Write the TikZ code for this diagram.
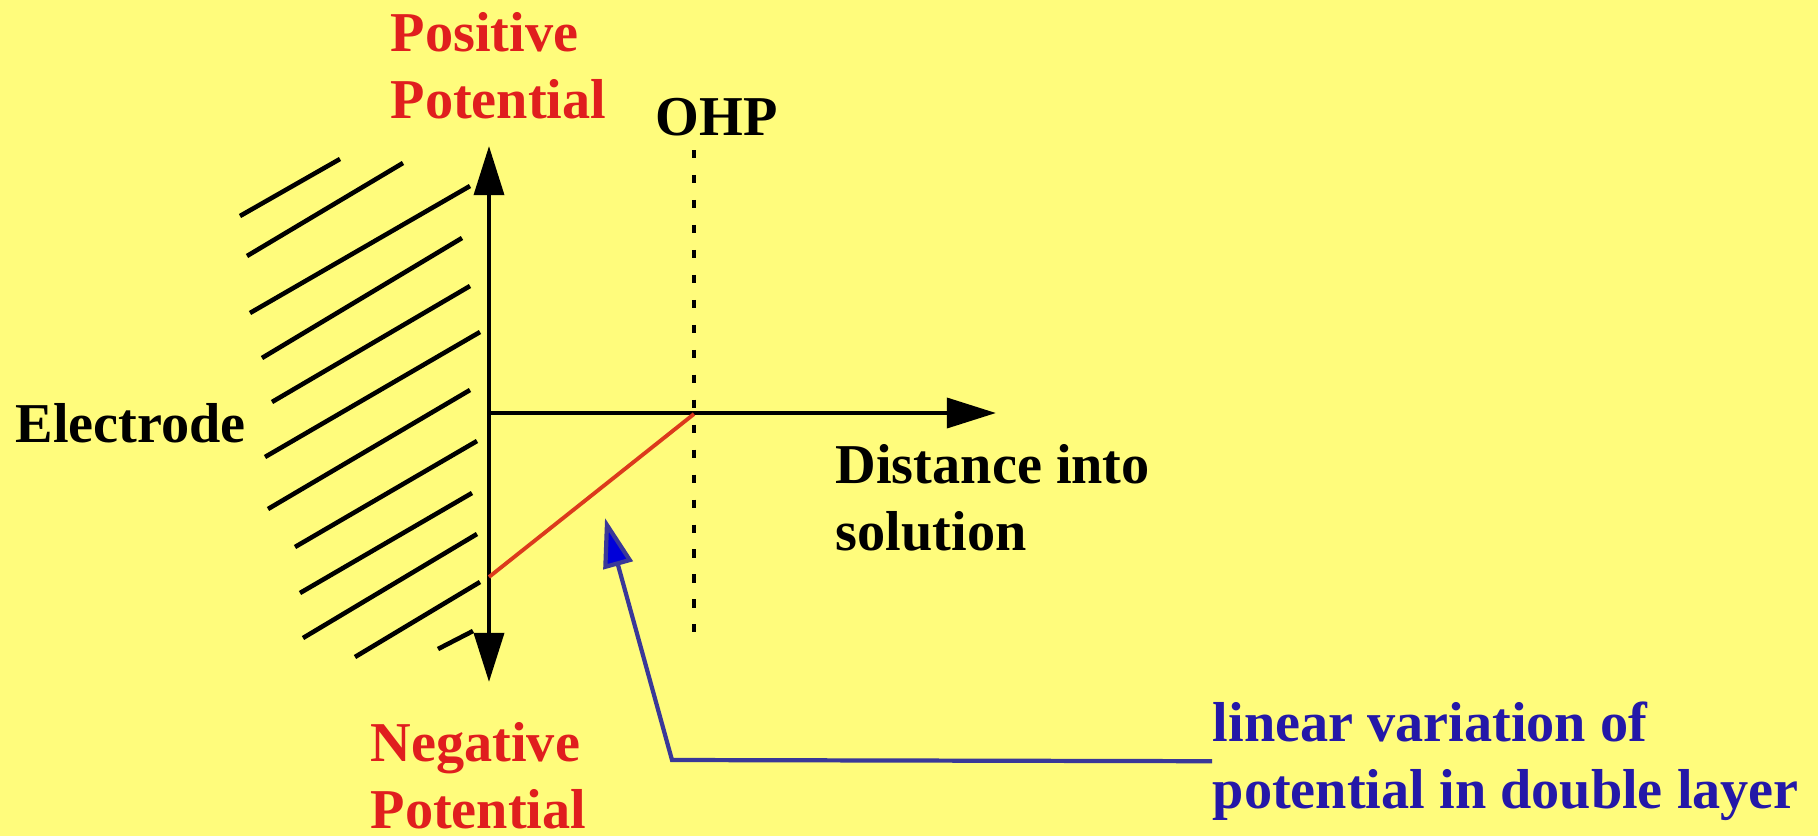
\documentclass[tikz,border=0pt]{standalone}
\usepackage{fontspec}
\setmainfont{Liberation Serif}
\usepackage{xcolor}
\definecolor{slidebg}{HTML}{FFFC7C}
\definecolor{potred}{HTML}{E01E1E}
\definecolor{linered}{HTML}{DC3A1C}
\definecolor{notenavy}{HTML}{2418A8}
\definecolor{notestroke}{HTML}{3A3898}
\usetikzlibrary{arrows.meta, positioning}

\tikzset{
    axistip/.tip={Triangle[length=14pt, width=8.5pt]},
    lbl/.style={font=\fontsize{16}{18.8}\selectfont\bfseries, inner sep=0pt, align=left},
    axisline/.style={line width=1.2pt},
    hatchline/.style={line width=1.3pt},
    ohpline/.style={line width=1.2pt, dash pattern=on 2.3pt off 4.8pt},
    potline/.style={line width=1.1pt, draw=linered},
    notearr/.style={line width=1.2pt, draw=notestroke, -{Triangle[length=14pt, width=8.5pt, fill=blue!85!black]}}
}

\begin{document}
\begin{tikzpicture}[x=0.01cm, y=-0.01cm]
    \fill[slidebg] (0,0) rectangle (1818,836);
    \useasboundingbox (0,0) rectangle (1818,836);

    % electrode surface
    \foreach \xa/\ya/\xb/\yb in {240/216/340/159, 247/256/403/163, 250/313/470/186, 262/358/462/238,
        272/402/470/286, 265/457/480/332, 268/509/470/390, 295/547/477/441, 300/593/472/493,
        303/638/477/534, 355/657/480/582, 438/649/473/631}
        \draw[hatchline] (\xa,\ya) -- (\xb,\yb);

    \coordinate (origin) at (489,413);
    \coordinate (ytop) at (489,146);
    \coordinate (ybot) at (489,682);
    \coordinate (xend) at (996,413);
    \coordinate (ohptop) at (694,150);
    \coordinate (ohpbot) at (694,647);
    \coordinate (vsurf) at (489,577);
    \coordinate (vohp) at (694,414);
    \coordinate (tip) at (605,518);
    \coordinate (bend) at (672,760);

    \draw[axisline, axistip-axistip] (ybot) -- (ytop);
    \draw[axisline, -axistip] (origin) -- (xend);
    \draw[ohpline] (ohptop) -- (ohpbot);
    \draw[potline] (vsurf) -- (vohp);

    % two-line labels are anchored on their last baseline
    \node[lbl, text=potred, anchor=base west] (pospot) at (390,118) {Positive\\Potential};
    \node[lbl, anchor=base west] (ohp) at (655,135) {OHP};
    \node[lbl, anchor=base west] (electrode) at (15,442) {Electrode};
    \node[lbl, anchor=base west] (distance) at (835,550) {Distance into\\solution};
    \node[lbl, text=potred, anchor=base west] (negpot) at (370,828) {Negative\\Potential};
    \node[lbl, text=notenavy, anchor=base west] (note) at (1212,808) {linear variation of\\potential in double layer};

    \draw[notearr] (note.west) -- (bend) -- (tip);
\end{tikzpicture}
\end{document}
